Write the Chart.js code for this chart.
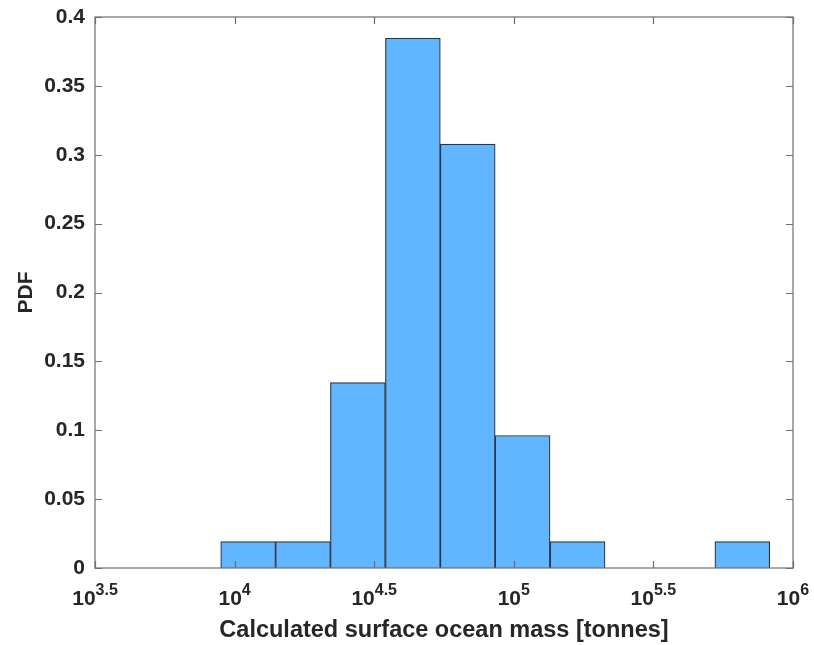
<!DOCTYPE html>
<html>
<head>
<meta charset="utf-8">
<script src="https://cdn.jsdelivr.net/npm/chart.js@4"></script>
<style>
  html, body { margin: 0; padding: 0; background: #fff; }
  #wrap { width: 814px; height: 645px; position: relative; }
</style>
</head>
<body>
<div id="wrap"><canvas id="pdfChart"></canvas></div>
<script>
  // Histogram bin edges, in log10(tonnes)
  const binEdges = [3.95, 4.147, 4.343, 4.54, 4.737, 4.933, 5.13, 5.327, 5.523, 5.72, 5.917];
  // PDF value for each bin
  const pdfValues = [0.0192, 0.0192, 0.1346, 0.3846, 0.3077, 0.0962, 0.0192, 0, 0, 0.0192];

  // Axis ticks
  const xTickExponents = [3.5, 4, 4.5, 5, 5.5, 6];
  const xTickLabels = ['3.5', '4', '4.5', '5', '5.5', '6'];
  const yTicks = [0, 0.05, 0.1, 0.15, 0.2, 0.25, 0.3, 0.35, 0.4];
  const yTickLabels = ['0', '0.05', '0.1', '0.15', '0.2', '0.25', '0.3', '0.35', '0.4'];

  const xTitle = 'Calculated surface ocean mass [tonnes]';
  const yTitle = 'PDF';

  const FONT = '"Liberation Sans", Arial, Helvetica, sans-serif';
  const TEXT = '#262626';
  const AXIS = '#6e6e6e';

  // bar centers from edges
  const bars = pdfValues.map((v, i) => ({ x: (binEdges[i] + binEdges[i + 1]) / 2, y: v }));

  // box, inside ticks, power-of-ten labels and titles (MATLAB look)
  const axesPlugin = {
    id: 'matlabAxes',
    afterDatasetsDraw(chart) {
      const ctx = chart.ctx;
      const a = chart.chartArea;
      const xs = chart.scales.x;
      const ys = chart.scales.y;
      const tick = 7;
      ctx.save();
      ctx.strokeStyle = AXIS;
      ctx.lineWidth = 1.2;
      ctx.strokeRect(a.left, a.top, a.right - a.left, a.bottom - a.top);
      ctx.beginPath();
      xTickExponents.forEach(v => {
        const px = Math.round(xs.getPixelForValue(v)) + 0.5;
        ctx.moveTo(px, a.bottom); ctx.lineTo(px, a.bottom - tick);
        ctx.moveTo(px, a.top); ctx.lineTo(px, a.top + tick);
      });
      yTicks.forEach(v => {
        const py = Math.round(ys.getPixelForValue(v)) + 0.5;
        ctx.moveTo(a.left, py); ctx.lineTo(a.left + tick, py);
        ctx.moveTo(a.right, py); ctx.lineTo(a.right - tick, py);
      });
      ctx.stroke();

      // x tick labels as 10^exp
      ctx.fillStyle = TEXT;
      ctx.textBaseline = 'alphabetic';
      ctx.textAlign = 'left';
      const baseFont = 'bold 21px ' + FONT;
      const supFont = 'bold 16px ' + FONT;
      xTickExponents.forEach((v, i) => {
        const px = xs.getPixelForValue(v);
        ctx.font = baseFont;
        const w1 = ctx.measureText('10').width;
        ctx.font = supFont;
        const w2 = ctx.measureText(xTickLabels[i]).width;
        const x0 = px - (w1 + w2) / 2;
        ctx.font = baseFont;
        ctx.fillText('10', x0, 605);
        ctx.font = supFont;
        ctx.fillText(xTickLabels[i], x0 + w1, 595);
      });

      // axis titles
      ctx.font = 'bold 23.5px ' + FONT;
      ctx.textAlign = 'center';
      ctx.fillText(xTitle, (a.left + a.right) / 2, 637);
      ctx.save();
      ctx.translate(32, (a.top + a.bottom) / 2);
      ctx.rotate(-Math.PI / 2);
      ctx.font = 'bold 21px ' + FONT;
      ctx.fillText(yTitle, 0, 0);
      ctx.restore();
      ctx.restore();
    }
  };

  const ctx = document.getElementById('pdfChart').getContext('2d');
  new Chart(ctx, {
    type: 'bar',
    data: {
      datasets: [{
        data: bars,
        backgroundColor: '#62b5ff',
        borderColor: '#2a3542',
        borderWidth: 1.2,
        borderSkipped: 'bottom',
        barPercentage: 1.0,
        categoryPercentage: 1.0,
        grouped: false
      }]
    },
    options: {
      responsive: true,
      maintainAspectRatio: false,
      animation: false,
      layout: { padding: { top: 17, right: 21, left: 0, bottom: 0 } },
      plugins: {
        legend: { display: false },
        tooltip: { enabled: false }
      },
      scales: {
        x: {
          type: 'linear',
          offset: false,
          min: 3.5,
          max: 6,
          ticks: { display: false, stepSize: 0.5 },
          grid: { display: false, offset: false },
          border: { display: false },
          afterFit(scale) { scale.height = 77; }
        },
        y: {
          min: 0,
          max: 0.4,
          afterBuildTicks(scale) { scale.ticks = yTicks.map(v => ({ value: v })); },
          ticks: {
            padding: 2,
            color: TEXT,
            font: { family: FONT, size: 21, weight: 'bold' },
            callback: (v) => yTickLabels[yTicks.indexOf(v)] ?? ''
          },
          grid: { display: false },
          border: { display: false },
          afterFit(scale) { scale.width = 95; }
        }
      }
    },
    plugins: [axesPlugin]
  });
</script>
</body>
</html>
